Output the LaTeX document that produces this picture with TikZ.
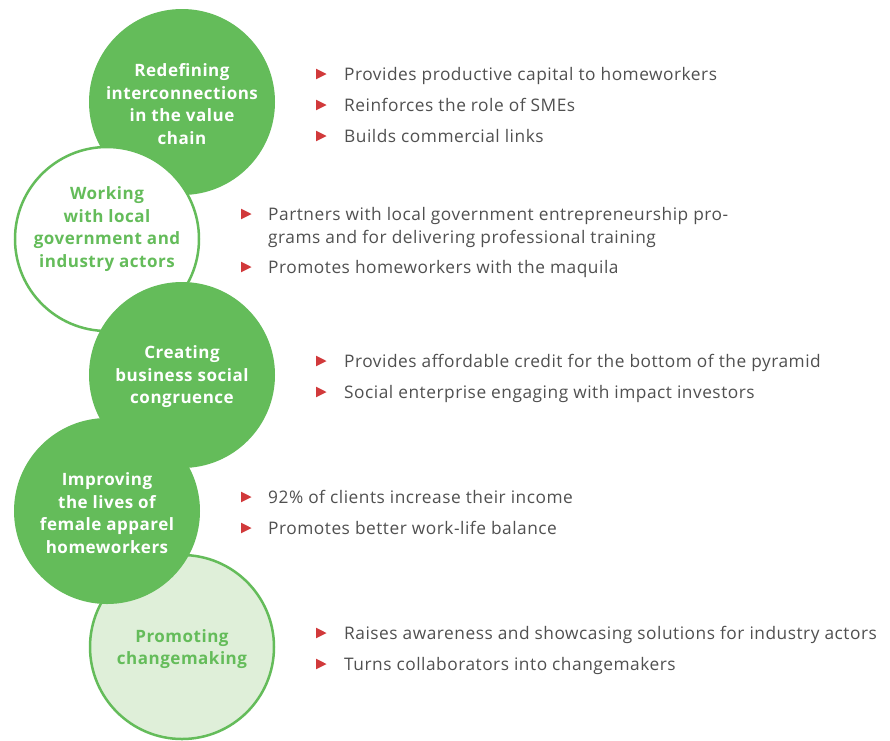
\documentclass[tikz,border=0pt]{standalone}
\usepackage{fontspec}
\setmainfont{Open Sans}[LetterSpace=3]

\definecolor{leafgreen}{HTML}{64BC5A}
\definecolor{mintfill}{HTML}{DFEFD9}
\definecolor{bulletred}{HTML}{D1393B}
\definecolor{bodygray}{HTML}{505050}

\tikzset{
  disc/.style={circle, minimum size=186pt, inner sep=0pt, fill=leafgreen},
  ringdisc/.style={circle, minimum size=184pt, inner sep=0pt, fill=white,
      draw=leafgreen, line width=2.5pt},
  mintdisc/.style={circle, minimum size=184pt, inner sep=0pt, fill=mintfill,
      draw=leafgreen, line width=2.5pt},
  head/.style={font=\bfseries\fontsize{17}{22.5}\selectfont, align=center,
      text=white, inner sep=0pt},
  greenhead/.style={head, text=leafgreen},
  item/.style={anchor=base west, font=\fontsize{17.3}{23}\selectfont,
      text=bodygray, inner sep=0pt, align=left},
  pics/flag/.style={code={\fill[bulletred] (-5,-5.3) -- (5.5,0) -- (-5,5.3) -- cycle;}}
}

\begin{document}
\begin{tikzpicture}[x=1pt, y=-1pt]
  \useasboundingbox[fill=white] (0,0) rectangle (890,740);

  % the five theme circles, stacked in a zig-zag
  \node[disc]     (c1) at (182,102) {};
  \node[ringdisc] (c2) at (107,239) {};
  \node[disc]     (c3) at (182,375) {};
  \node[mintdisc] (c5) at (182,647) {};
  \node[disc]     (c4) at (107,511) {};

  % circle titles
  \node[head]      (t1) at (182,104) {Redefining\\interconnections\\in the value\\chain};
  \node[greenhead] (t2) at (107,229) {Working\\with local\\government and\\industry actors};
  \node[head]      (t3) at (182,377) {Creating\\business social\\congruence};
  \node[head]      (t4) at (107,513) {Improving\\the lives of\\female apparel\\homeworkers};
  \node[greenhead] (t5) at (182,649) {Promoting\\changemaking};

  % bullet lists (a multi-line item is placed by its last baseline)
  \pic at (321,74)  {flag};
  \node[item] (a1) at (344,80)  {Provides productive capital to homeworkers};
  \pic at (321,105) {flag};
  \node[item] (a2) at (344,111) {Reinforces the role of SMEs};
  \pic at (321,136) {flag};
  \node[item] (a3) at (344,142) {Builds commercial links};

  \pic at (246,214) {flag};
  \node[item] (b1) at (268,243) {Partners with local government entrepreneurship pro-\\grams and for delivering professional training};
  \pic at (246,267) {flag};
  \node[item] (b2) at (268,273) {Promotes homeworkers with the maquila};

  \pic at (321,361) {flag};
  \node[item] (d1) at (344,367) {Provides affordable credit for the bottom of the pyramid};
  \pic at (321,392) {flag};
  \node[item] (d2) at (344,398) {Social enterprise engaging with impact investors};

  \pic at (246,497) {flag};
  \node[item] (e1) at (268,503) {92\% of clients increase their income};
  \pic at (246,528) {flag};
  \node[item] (e2) at (268,534) {Promotes better work-life balance};

  \pic at (321,633) {flag};
  \node[item] (f1) at (344,639) {Raises awareness and showcasing solutions for industry actors};
  \pic at (321,664) {flag};
  \node[item] (f2) at (344,670) {Turns collaborators into changemakers};
\end{tikzpicture}
\end{document}
